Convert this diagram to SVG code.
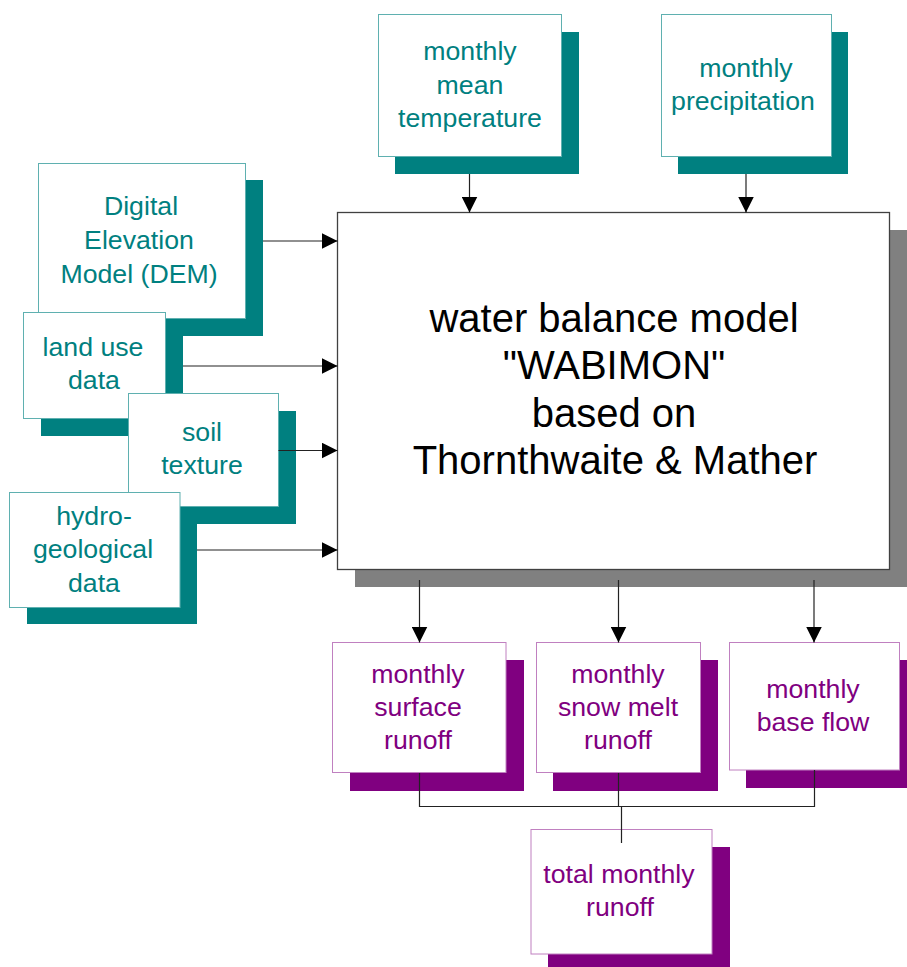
<svg xmlns="http://www.w3.org/2000/svg" width="907" height="967" viewBox="0 0 907 967">
<style>
text{font-family:"Liberation Sans",Arial,sans-serif;text-anchor:middle}
.t{fill:#008080;font-size:26.7px}
.p{fill:#800080;font-size:26.7px}
.m{fill:#000;font-size:40px}
.ts{fill:#008080}
.ps{fill:#800080}
.gs{fill:#808080}
.tb{fill:#fff;stroke:#5fb0b0;stroke-width:1}
.pb{fill:#fff;stroke:#c080c0;stroke-width:1}
.mb{fill:#fff;stroke:#404040;stroke-width:1.3}
.c{fill:none;stroke:#222;stroke-width:1.2}
</style>
<defs>
<marker id="ah" markerUnits="userSpaceOnUse" markerWidth="16" markerHeight="16" refX="16" refY="8" orient="auto">
<path d="M0,0 L16,8 L0,16 z" fill="#000"/>
</marker>
</defs>
<g id="temp">
<rect class="ts" x="395" y="32" width="184" height="142"/>
<rect class="tb" x="378.5" y="14.5" width="183" height="142"/>
<text class="t" x="470" y="60">monthly</text>
<text class="t" x="470" y="93.5">mean</text>
<text class="t" x="470" y="127">temperature</text>
</g>
<g id="precip">
<rect class="ts" x="678" y="32" width="170" height="142"/>
<rect class="tb" x="661.5" y="14.5" width="170" height="142"/>
<text class="t" x="746" y="77">monthly</text>
<text class="t" x="743" y="110">precipitation</text>
</g>
<g id="main">
<rect class="gs" x="355" y="230" width="552" height="357"/>
<rect class="mb" x="337.5" y="212.5" width="552" height="357"/>
<text class="m" x="614" y="332">water balance model</text>
<text class="m" x="614" y="379">"WABIMON"</text>
<text class="m" x="614" y="427">based on</text>
<text class="m" x="615" y="474">Thornthwaite &amp; Mather</text>
</g>
<g id="dem">
<rect class="ts" x="55" y="180" width="208" height="156"/>
<rect class="tb" x="38.5" y="163.5" width="207" height="155"/>
<text class="t" x="141" y="215">Digital</text>
<text class="t" x="139" y="249">Elevation</text>
<text class="t" x="139" y="283">Model (DEM)</text>
</g>
<g id="landuse">
<rect class="ts" x="41" y="330" width="142" height="106"/>
<rect class="tb" x="23.5" y="312.5" width="142" height="106"/>
<text class="t" x="93" y="356">land use</text>
<text class="t" x="94" y="389">data</text>
</g>
<g id="soil">
<rect class="ts" x="145" y="411" width="151" height="113"/>
<rect class="tb" x="128.5" y="393.5" width="150" height="113"/>
<text class="t" x="202" y="441">soil</text>
<text class="t" x="202" y="474">texture</text>
</g>
<g id="hydro">
<rect class="ts" x="27" y="510" width="170" height="114"/>
<rect class="tb" x="9.5" y="492.5" width="170.5" height="115"/>
<text class="t" x="94" y="525">hydro-</text>
<text class="t" x="93" y="558">geological</text>
<text class="t" x="94" y="592">data</text>
</g>
<g id="surface">
<rect class="ps" x="350" y="660" width="174" height="131"/>
<rect class="pb" x="332.5" y="642.5" width="173.5" height="130"/>
<text class="p" x="418" y="683">monthly</text>
<text class="p" x="418" y="716">surface</text>
<text class="p" x="418" y="749">runoff</text>
</g>
<g id="snow">
<rect class="ps" x="553" y="660" width="165" height="131"/>
<rect class="pb" x="536.5" y="642.5" width="164" height="130"/>
<text class="p" x="618" y="683">monthly</text>
<text class="p" x="618" y="716">snow melt</text>
<text class="p" x="618" y="749">runoff</text>
</g>
<g id="base">
<rect class="ps" x="746" y="660" width="170" height="128"/>
<rect class="pb" x="729.5" y="642.5" width="170" height="127.5"/>
<text class="p" x="813" y="698">monthly</text>
<text class="p" x="813" y="731">base flow</text>
</g>
<g id="total">
<rect class="ps" x="548" y="847" width="182" height="120"/>
<rect class="pb" x="531" y="829.5" width="181" height="124.5"/>
<text class="p" x="619" y="883">total monthly</text>
<text class="p" x="620" y="916">runoff</text>
</g>
<g id="connectors">
<line class="c" x1="469.5" y1="174" x2="469.5" y2="212.5" marker-end="url(#ah)"/>
<line class="c" x1="746" y1="174" x2="746" y2="212.5" marker-end="url(#ah)"/>
<line class="c" x1="263" y1="241" x2="337.5" y2="241" marker-end="url(#ah)"/>
<line class="c" x1="183" y1="366" x2="337.5" y2="366" marker-end="url(#ah)"/>
<line class="c" x1="278.5" y1="450.5" x2="337.5" y2="450.5" marker-end="url(#ah)"/>
<line class="c" x1="197" y1="550" x2="337.5" y2="550" marker-end="url(#ah)"/>
<line class="c" x1="419.5" y1="580" x2="419.5" y2="642.5" marker-end="url(#ah)"/>
<line class="c" x1="618.5" y1="580" x2="618.5" y2="642.5" marker-end="url(#ah)"/>
<line class="c" x1="814" y1="580" x2="814" y2="642.5" marker-end="url(#ah)"/>
<path class="c" d="M419.5,773 V806.5 H814.5 V770"/>
<path class="c" d="M618.5,773 V806.5 H621.5 V843"/>
</g>
</svg>
